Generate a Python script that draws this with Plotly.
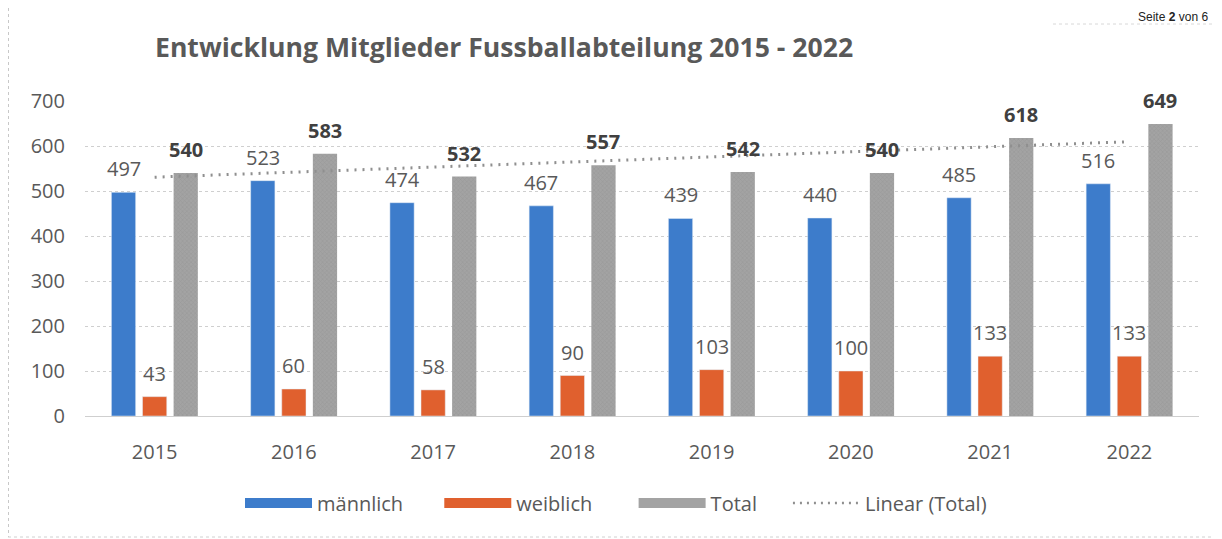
import numpy as np
import plotly.graph_objects as go

years = ["2015", "2016", "2017", "2018", "2019", "2020", "2021", "2022"]
maennlich = [497, 523, 474, 467, 439, 440, 485, 516]
weiblich = [43, 60, 58, 90, 103, 100, 133, 133]
total = [540, 583, 532, 557, 542, 540, 618, 649]
y_ticks = [0, 100, 200, 300, 400, 500, 600, 700]

title_text = "Entwicklung Mitglieder Fussballabteilung 2015 - 2022"
FONT = "Open Sans"
GRAY_TXT = "#595959"
C_M = "#3D7CCB"
C_W = "#E0602E"
C_T = "#A3A3A3"

# The page is rendered with an 8px body margin: figure is sized to fill the rest.
W, H = 1214, 531
L, R, T, B = 77, 23, 93, 123
PW, PH = W - L - R, H - T - B


def px_x(x):  # figure pixel -> paper x
    return (x - L) / PW


def px_y(y):  # figure pixel -> paper y
    return (H - B - y) / PH


# linear trendline of Total (as Excel "Linear (Total)")
xi = np.arange(len(total))
slope, intercept = np.polyfit(xi, total, 1)
trend = (intercept + slope * xi).tolist()

fig = go.Figure()
fig.add_trace(go.Bar(x=years, y=maennlich, name="männlich", marker_color=C_M,
                     showlegend=False, legendgroup="m"))
fig.add_trace(go.Bar(x=years, y=weiblich, name="weiblich", marker_color=C_W,
                     showlegend=False, legendgroup="w"))
fig.add_trace(go.Bar(x=years, y=total, name="Total", showlegend=False, legendgroup="t",
                     marker=dict(color=C_T, line=dict(width=0),
                                 pattern=dict(shape="x", size=3, solidity=0.3,
                                              fgcolor="#8a8a8a", bgcolor=C_T))))
fig.add_trace(go.Scatter(x=years, y=trend, mode="lines", name="Linear (Total)",
                         line=dict(color="#8f8f8f", width=3, dash="2px,6px"),
                         showlegend=False, legendgroup="lin"))

# legend entries with wide swatches (non-breaking spaces widen the gaps like Excel)
NB = "\u00a0"
for nm, pad, col, grp in [("männlich", 6, C_M, "m"), ("weiblich", 7, C_W, "w"),
                          ("Total", 5, C_T, "t")]:
    fig.add_trace(go.Scatter(x=[years[0]], y=[None], mode="lines", name=nm + NB * pad,
                             legendgroup=grp, line=dict(color=col, width=10)))
fig.add_trace(go.Scatter(x=[years[0]], y=[None], mode="lines", name="Linear (Total)",
                         legendgroup="lin", line=dict(color="#8f8f8f", width=2.5, dash="2px,5px")))

annotations = []
for vals, shift, bold in [(maennlich, -31, False), (weiblich, 0, False), (total, 31, True)]:
    for i, v in enumerate(vals):
        annotations.append(dict(
            x=i, y=v, xref="x", yref="y", xshift=shift, yshift=8,
            text=f"<b>{v}</b>" if bold else str(v), showarrow=False,
            yanchor="bottom", xanchor="center",
            font=dict(family=FONT, size=20, color="#404040" if bold else GRAY_TXT)))

annotations.append(dict(x=px_x(W - 12), y=px_y(0), xref="paper", yref="paper", showarrow=False,
                        text="Seite <b>2</b> von 6", xanchor="right", yanchor="top",
                        font=dict(family="Liberation Sans", size=12, color="#222")))

fig.update_layout(
    width=W, height=H,
    paper_bgcolor="white", plot_bgcolor="white",
    margin=dict(l=L, r=R, t=T, b=B),
    barmode="group", bargap=0.33, bargroupgap=0.22,
    title=dict(text=f"<b>{title_text}</b>", x=147 / W, xanchor="left",
               y=1 - 40 / H, yanchor="middle",
               font=dict(family=FONT, size=26.6, color=GRAY_TXT)),
    font=dict(family=FONT, size=20, color=GRAY_TXT),
    legend=dict(orientation="h", x=px_x(232), xanchor="left", y=px_y(495), yanchor="middle",
                font=dict(family=FONT, size=20, color=GRAY_TXT), itemwidth=67,
                traceorder="normal", bgcolor="rgba(0,0,0,0)"),
    annotations=annotations,
    shapes=[
        dict(type="line", xref="paper", yref="paper", x0=px_x(0.5), x1=px_x(0.5),
             y0=px_y(0), y1=px_y(529),
             line=dict(color="#c8c8c8", width=1, dash="dot")),
        dict(type="line", xref="paper", yref="paper", x0=px_x(0), x1=px_x(W),
             y0=px_y(529), y1=px_y(529),
             line=dict(color="#d0d0d0", width=1, dash="dot")),
        dict(type="line", xref="paper", yref="paper", x0=px_x(1045), x1=px_x(W),
             y0=px_y(16), y1=px_y(16),
             line=dict(color="#d8d8d8", width=1, dash="dot")),
    ],
)
fig.update_xaxes(type="category", categoryorder="array", categoryarray=years,
                 range=[-0.5, len(years) - 0.5], showgrid=False, showline=False, ticks="",
                 tickfont=dict(family=FONT, size=20, color=GRAY_TXT), ticklabelstandoff=22)
fig.update_yaxes(range=[0, 700], tickvals=y_ticks, showgrid=True, gridcolor="#cfcfcf",
                 griddash="dot", gridwidth=1, zeroline=True, zerolinecolor="#cfcfcf",
                 zerolinewidth=1, showline=False, ticks="",
                 tickfont=dict(family=FONT, size=20, color=GRAY_TXT), ticklabelstandoff=19)

fig.write_html("out.html")
